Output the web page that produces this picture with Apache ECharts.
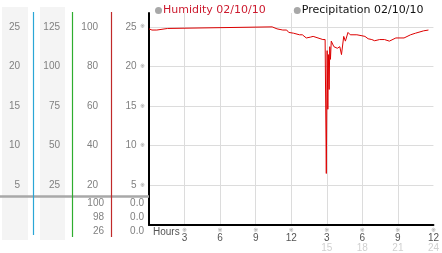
<!DOCTYPE html>
<html><head><meta charset="utf-8">
<script src="https://cdn.jsdelivr.net/npm/echarts@6/dist/echarts.min.js"></script>
<style>html,body{margin:0;padding:0;background:#fff}#c{width:442px;height:253px}</style>
</head><body><div id="c"></div>
<script>
// hours of day and humidity readings (chart units)
const hours = [0,0.25,0.66,0.75,1.57,1.73,10.39,10.55,10.8,11.29,11.62,11.79,12.2,12.7,12.94,13.27,13.6,13.85,14.26,14.67,14.86,
  14.96,15.03,15.09,15.14,15.2,15.25,15.31,15.38,15.6,15.89,16.1,16.24,16.43,16.57,16.79,16.98,17.12,17.54,17.89,18.22,18.49,18.8,19.04,
  19.46,19.87,20.28,20.83,21.52,22.07,22.48,23.17,23.58];
const humidity = [24.75,24.6,24.6,24.8,24.8,25.0,25.0,24.8,24.75,24.6,24.6,24.3,24.2,24.0,24.0,23.6,23.7,23.8,23.6,23.4,23.4,
  6.5,22.0,14.6,21.5,17.1,22.5,20.9,23.2,22.5,22.3,22.5,21.5,23.8,23.2,24.3,24.0,24.2,24.0,23.9,23.8,23.5,23.4,23.25,
  23.4,23.4,23.2,23.6,23.6,24.0,24.2,24.5,24.6];
const precipitation = [];
const seriesNames = ['Humidity 02/10/10','Precipitation 02/10/10'];
const xTicks = [3,6,9,12,15,18,21,24];
const col1Ticks = [5,10,15,20,25];
const col2Ticks = [25,50,75,100,125];
const col3Ticks = [20,40,60,80,100];
const col3Values = ['100','98','26'];
const col4Values = ['0.0','0.0','0.0'];

const YMAX = 26.75;
const numFont = 'Liberation Sans';
function yAxisExtra(k, offset){
  return {type:'value', position:'left', min:0, max:YMAX*k, interval:5*k, offset:offset,
    axisLine:{show:false}, axisTick:{show:false}, splitLine:{show:false},
    axisLabel:{margin:0, color:'#808080', fontFamily:numFont, fontSize:10,
      formatter:v => (v>0 && Math.abs(v % (5*k))<1e-6) ? String(v) : ''}};
}
const chart = echarts.init(document.getElementById('c'), null, {renderer:'canvas'});
const texts = [];
const rowsY = [204,218,232];
col3Values.forEach((t,i)=>texts.push({type:'text', right:442-104, top:rowsY[i]-6, style:{text:t, fill:'#808080', font:'10px '+numFont}}));
col4Values.forEach((t,i)=>texts.push({type:'text', right:442-144, top:rowsY[i]-6, style:{text:t, fill:'#808080', font:'10px '+numFont}}));
chart.setOption({
  animation:false,
  legend:{left:150, top:0, itemWidth:7, itemHeight:7, itemGap:28, icon:'circle',
    textStyle:{fontFamily:'DejaVu Sans', fontSize:11, padding:[0,0,0,-4]},
    data:[{name:seriesNames[0], itemStyle:{color:'#a8a8a8'}, textStyle:{color:'#cc1a2e'}},
          {name:seriesNames[1], itemStyle:{color:'#a8a8a8'}, textStyle:{color:'#111'}}]},
  grid:{left:149, right:2, top:13, bottom:27},
  xAxis:{type:'value', min:0, max:24, interval:3,
    axisLine:{lineStyle:{color:'#000', width:2}}, axisTick:{show:false},
    splitLine:{show:true, showMinLine:false, showMaxLine:false, lineStyle:{color:'#dcdcdc'}},
    axisLabel:{margin:2, showMinLabel:false,
      formatter:v => { if(v===0 || xTicks.indexOf(v)<0) return ''; const t=v>12?v-12:v; const b=v>12?String(v):' ';
        return '{m|※}\n{a|'+t+'}\n{b|'+b+'}'; },
      rich:{m:{fontSize:6, lineHeight:6, color:'#999', fontFamily:'DejaVu Sans'},
            a:{fontSize:10, lineHeight:10, color:'#555', fontFamily:numFont},
            b:{fontSize:10, lineHeight:10, color:'#d0d0d0', fontFamily:numFont}}}},
  yAxis:[
    {type:'value', position:'left', min:0, max:YMAX, interval:5,
      axisLine:{show:true, lineStyle:{color:'#000', width:2}}, axisTick:{show:false},
      splitLine:{show:true, showMinLine:false, showMaxLine:false, lineStyle:{color:'#dcdcdc'}},
      axisLabel:{margin:4, formatter:v => (v>0 && v%5===0) ? '{n|'+v+'} {m|※}' : '',
        rich:{n:{fontSize:10, color:'#808080', fontFamily:numFont}, m:{fontSize:6, color:'#999', fontFamily:'DejaVu Sans'}}}},
    yAxisExtra(1, 129),
    yAxisExtra(5, 89),
    yAxisExtra(4, 51)
  ],
  graphic:[
    {type:'rect', shape:{x:2,y:7,width:26,height:233}, style:{fill:'#f4f4f4'}, z:-10},
    {type:'rect', shape:{x:40,y:7,width:25,height:233}, style:{fill:'#f4f4f4'}, z:-10},
    {type:'line', shape:{x1:0,y1:196.5,x2:149,y2:196.5}, style:{stroke:'#a8a8a8', lineWidth:2.5}, z:1},
    {type:'line', shape:{x1:33.5,y1:12,x2:33.5,y2:235}, style:{stroke:'#2aa6d6', lineWidth:1.2}, z:2},
    {type:'line', shape:{x1:72.5,y1:12,x2:72.5,y2:237}, style:{stroke:'#2ead2e', lineWidth:1.2}, z:2},
    {type:'line', shape:{x1:111.5,y1:12,x2:111.5,y2:237}, style:{stroke:'#c02a2a', lineWidth:1.2}, z:2},
    {type:'text', left:153, top:227, style:{text:'Hours', fill:'#555', font:'10px '+numFont}}
  ].concat(texts),
  series:[
    {name:seriesNames[0], type:'line', showSymbol:false, symbol:'none', data:hours.map((h,i)=>[h,humidity[i]]),
      lineStyle:{color:'#dd0000', width:1}, itemStyle:{color:'#dd0000'}},
    {name:seriesNames[1], type:'line', showSymbol:false, symbol:'none', data:precipitation,
      lineStyle:{color:'#888', width:1}}
  ]
});
</script></body></html>
